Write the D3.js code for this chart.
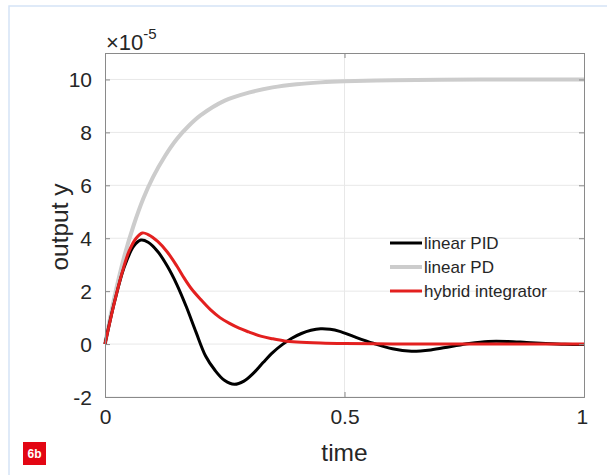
<!DOCTYPE html>
<html>
<head>
<meta charset="utf-8">
<script src="https://cdn.jsdelivr.net/npm/d3@7"></script>
<style>
  body { margin: 0; background: #fff; }
  #graf { width: 607px; height: 475px; }
  text { font-family: "Liberation Sans", Arial, sans-serif; fill: #262626; }
</style>
</head>
<body>
<div id="graf"></div>
<script>
// valores (eje y en unidades de 1e-5)
const tPD = [0, 0.02, 0.04, 0.06, 0.08, 0.1, 0.125, 0.15, 0.175, 0.2, 0.25, 0.3, 0.35, 0.4, 0.45, 0.5, 0.6, 0.7, 0.8, 0.9, 1.0]
const yPD = [0, 1.8, 3.3, 4.5, 5.5, 6.3, 7.1, 7.75, 8.25, 8.65, 9.2, 9.5, 9.7, 9.82, 9.89, 9.93, 9.97, 9.99, 10, 10, 10]

const tPID = [0, 0.02, 0.04, 0.06, 0.075, 0.09, 0.11, 0.13, 0.15, 0.17, 0.19, 0.21, 0.23, 0.25, 0.27, 0.29, 0.31, 0.33, 0.35, 0.37, 0.39, 0.41, 0.43, 0.45, 0.47, 0.49, 0.52, 0.56, 0.6, 0.64, 0.68, 0.72, 0.76, 0.8, 0.84, 0.88, 0.92, 0.96, 1.0]
const yPID = [0, 1.6, 2.9, 3.7, 3.93, 3.85, 3.5, 2.95, 2.25, 1.4, 0.45, -0.45, -1.0, -1.38, -1.52, -1.4, -1.1, -0.7, -0.32, -0.02, 0.22, 0.4, 0.52, 0.58, 0.56, 0.48, 0.28, 0.03, -0.18, -0.27, -0.22, -0.1, 0.02, 0.1, 0.1, 0.06, 0.02, -0.01, -0.02]

const tHyb = [0, 0.02, 0.035, 0.05, 0.065, 0.078, 0.09, 0.11, 0.13, 0.15, 0.165, 0.18, 0.2, 0.22, 0.24, 0.26, 0.28, 0.3, 0.325, 0.35, 0.375, 0.4, 0.45, 0.5, 0.6, 0.7, 0.8, 0.9, 1.0]
const yHyb = [0, 1.6, 2.65, 3.5, 4.0, 4.2, 4.14, 3.88, 3.48, 2.95, 2.5, 2.1, 1.68, 1.3, 1.0, 0.78, 0.6, 0.46, 0.3, 0.2, 0.12, 0.08, 0.04, 0.02, 0.005, 0, 0, 0, 0]

const xTicks = [0, 0.5, 1]
const yTicks = [-2, 0, 2, 4, 6, 8, 10]

const series = [
  { nombre: "linear PID", t: tPID, y: yPID, color: "#000000", ancho: 3 },
  { nombre: "linear PD", t: tPD, y: yPD, color: "#cccccc", ancho: 4 },
  { nombre: "hybrid integrator", t: tHyb, y: yHyb, color: "#e3201f", ancho: 3 },
]

const anchoTotal = 607
const altoTotal = 475
const m = { left: 105, right: 584, top: 53, bottom: 397 }

const svg = d3.select("#graf")
  .append("svg")
  .attr("width", anchoTotal)
  .attr("height", altoTotal)

// marco azul claro de la pagina
svg.append("path")
  .attr("d", `M9,${altoTotal} V6 H${anchoTotal}`)
  .attr("fill", "none")
  .attr("stroke", "#d5e4f6")
  .attr("stroke-width", 1.5)

const x = d3.scaleLinear().domain([0, 1]).range([m.left, m.right])
const y = d3.scaleLinear().domain([-2, 11]).range([m.bottom, m.top])

// rejilla
svg.append("g")
  .selectAll("line")
  .data(yTicks)
  .enter()
  .append("line")
  .attr("x1", m.left).attr("x2", m.right)
  .attr("y1", (d) => y(d)).attr("y2", (d) => y(d))
  .attr("stroke", "#e8e8e8")
svg.append("g")
  .selectAll("line")
  .data(xTicks.slice(1, -1))
  .enter()
  .append("line")
  .attr("y1", m.top).attr("y2", m.bottom)
  .attr("x1", (d) => x(d)).attr("x2", (d) => x(d))
  .attr("stroke", "#e8e8e8")

// curvas
const linea = (s) => d3.line()
  .x((d) => x(d))
  .y((d, i) => y(s.y[i]))
  .curve(d3.curveCatmullRom.alpha(0.5))(s.t)

svg.append("g")
  .selectAll("path")
  .data([series[1], series[0], series[2]])
  .enter()
  .append("path")
  .attr("d", (s) => linea(s))
  .attr("fill", "none")
  .attr("stroke", (s) => s.color)
  .attr("stroke-width", (s) => s.ancho)
  .attr("stroke-linejoin", "round")

// ejes con ticks hacia dentro
const ejeX = svg.append("g")
  .attr("transform", `translate(0,${m.bottom})`)
  .call(d3.axisBottom(x).tickValues(xTicks).tickSize(-5).tickPadding(12).tickFormat(d3.format("")))
const ejeY = svg.append("g")
  .attr("transform", `translate(${m.left},0)`)
  .call(d3.axisLeft(y).tickValues(yTicks).tickSize(-5).tickPadding(13).tickFormat((d) => String(d)))
svg.append("g")
  .attr("transform", `translate(0,${m.top})`)
  .call(d3.axisTop(x).tickValues(xTicks).tickSize(-5).tickFormat(""))
svg.append("g")
  .attr("transform", `translate(${m.right},0)`)
  .call(d3.axisRight(y).tickValues(yTicks).tickSize(-5).tickFormat(""))

svg.selectAll(".domain").attr("stroke", "#8a8a8a")
svg.selectAll(".tick line").attr("stroke", "#8a8a8a")
ejeX.selectAll("text").attr("font-size", 21).attr("fill", "#262626")
ejeY.selectAll("text").attr("font-size", 21).attr("fill", "#262626").attr("dy", "0.35em")
ejeX.selectAll(".tick").filter((d) => d === 1).select("text").attr("dx", "-0.1em")

// multiplicador
const mult = svg.append("text").attr("x", 106).attr("y", 50)
mult.append("tspan").attr("font-size", 22).text("×10")
mult.append("tspan").attr("font-size", 15).attr("dy", -11).text("-5")

// titulos de ejes
svg.append("text")
  .attr("x", x(0.5)).attr("y", 461)
  .attr("text-anchor", "middle").attr("font-size", 24.5)
  .text("time")
svg.append("text")
  .attr("transform", `translate(68,${(m.top + m.bottom) / 2 + 2}) rotate(-90)`)
  .attr("text-anchor", "middle").attr("font-size", 24.5)
  .text("output y")

// leyenda
const ley = svg.append("g")
  .selectAll("g")
  .data(series)
  .enter()
  .append("g")
  .attr("transform", (d, i) => `translate(390,${243 + i * 24})`)
ley.append("line")
  .attr("x1", 0).attr("x2", 32)
  .attr("stroke", (d) => d.color)
  .attr("stroke-width", (d) => d.ancho)
ley.append("text")
  .attr("x", 34).attr("dy", "0.35em")
  .attr("font-size", 17)
  .text((d) => d.nombre)

// etiqueta 6b
svg.append("rect")
  .attr("x", 23).attr("y", 442).attr("width", 23).attr("height", 23)
  .attr("fill", "#e30613")
svg.append("text")
  .attr("x", 34.5).attr("y", 458)
  .attr("text-anchor", "middle").attr("font-size", 12).attr("font-weight", "bold")
  .style("fill", "#fff")
  .text("6b")
</script>
</body>
</html>
